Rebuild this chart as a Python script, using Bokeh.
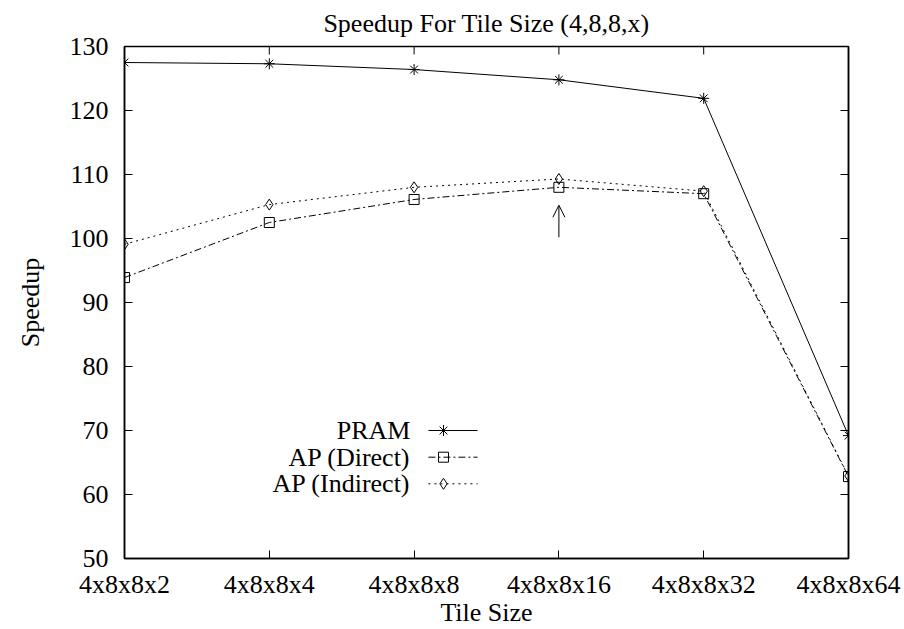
from bokeh.plotting import figure
from bokeh.models import (Range1d, FixedTicker, LinearAxis, Arrow, OpenHead,
                          ColumnDataSource, CustomLabelingPolicy)
from bokeh.core.properties import value
from bokeh.embed import file_html
from bokeh.resources import INLINE

categories = ["4x8x8x2", "4x8x8x4", "4x8x8x8", "4x8x8x16", "4x8x8x32", "4x8x8x64"]
pram = [127.5, 127.3, 126.4, 124.8, 121.9, 69.2]
ap_direct = [93.9, 102.5, 106.1, 108.0, 107.0, 62.8]
ap_indirect = [99.1, 105.3, 108.0, 109.3, 107.4, 62.9]
series_names = ["PRAM", "AP (Direct)", "AP (Indirect)"]
y_ticks = [50, 60, 70, 80, 90, 100, 110, 120, 130]
title_text = "Speedup For Tile Size (4,8,8,x)"
arrow_cat = 3
arrow_from, arrow_to = 100.2, 105.2

FONT = "Liberation Serif"
FS = "26px"
FRAME_W, FRAME_H = 724, 512
TICK_PX = 8

xs = list(range(len(categories)))
y0, y1 = 50, 130

p = figure(width=904, height=629, output_backend="svg", toolbar_location=None,
           x_range=Range1d(0, len(categories) - 1), y_range=Range1d(y0, y1),
           min_border_left=124, min_border_right=56, min_border_top=46,
           min_border_bottom=71, title=title_text)
p.frame_width = FRAME_W
p.frame_height = FRAME_H

p.title.text_font = FONT
p.title.text_font_size = FS
p.title.text_font_style = "normal"
p.title.align = "center"
p.title.vertical_align = "top"
p.title.text_color = "black"
p.title.standoff = 13

p.grid.visible = False
p.outline_line_color = "black"
p.outline_line_width = 1.5
p.background_fill_color = "white"
p.border_fill_color = "white"

for ax in (p.xaxis[0], p.yaxis[0]):
    ax.major_label_text_font = FONT
    ax.major_label_text_font_size = FS
    ax.major_label_text_color = "black"
    ax.axis_label_text_font = FONT
    ax.axis_label_text_font_size = FS
    ax.axis_label_text_font_style = "normal"
    ax.axis_label_text_color = "black"
    ax.major_tick_in = TICK_PX
    ax.major_tick_out = 0
    ax.minor_tick_in = 0
    ax.minor_tick_out = 0
    ax.axis_line_color = "black"
    ax.axis_line_width = 1.5
    ax.major_tick_line_color = "black"
    ax.major_tick_line_width = 1

p.xaxis[0].ticker = FixedTicker(ticks=xs)
p.xaxis[0].major_label_overrides = {i: c for i, c in enumerate(categories)}
p.xaxis[0].axis_label = "Tile Size"
p.xaxis[0].major_label_standoff = 11
p.xaxis[0].axis_label_standoff = -4

p.yaxis[0].ticker = FixedTicker(ticks=y_ticks)
p.yaxis[0].axis_label = "Speedup"
p.yaxis[0].major_label_standoff = 16
p.yaxis[0].axis_label_standoff = 22

# mirrored ticks on the right: an axis without labels
hide_all = CustomLabelingPolicy(code="""
    const idx = [...indices]
    for (const i of idx) { indices.unset(i) }
    return indices
""")
ra = LinearAxis(ticker=FixedTicker(ticks=y_ticks))
ra.major_label_policy = hide_all
ra.major_label_text_font_size = "1px"
ra.major_label_standoff = 0
ra.major_tick_in = TICK_PX
ra.major_tick_out = 0
ra.minor_tick_in = 0
ra.minor_tick_out = 0
ra.axis_line_color = "black"
ra.axis_line_width = 1.5
ra.major_tick_line_color = "black"
p.add_layout(ra, "right")

# mirrored ticks on the top edge, derived from the x ticks
tick_len_y = TICK_PX * (y1 - y0) / FRAME_H
p.segment(x0=xs, y0=[y1] * len(xs), x1=xs, y1=[y1 - tick_len_y] * len(xs),
          line_color="black", line_width=1)

styles = [
    (pram, "solid", "asterisk", 11),
    (ap_direct, "7 3 2 3", "square", 10),
    (ap_indirect, "2 4", "diamond", 11),
]

for vals, dash, marker, size in styles:
    src = ColumnDataSource(dict(x=xs, y=vals))
    p.line("x", "y", source=src, line_color="black", line_width=1, line_dash=dash)
    p.scatter("x", "y", source=src, marker=marker, size=size, line_color="black",
              fill_color=None, line_width=1)

# gnuplot-style key: text right-aligned, then sample line with marker
key_text_x = 1.975
key_line_x0, key_line_x1, key_marker_x = 2.099, 2.438, 2.203
key_rows = [70.0, 65.83, 61.67]
for (vals, dash, marker, size), name, ky in zip(styles, series_names, key_rows):
    p.text(x=[key_text_x], y=[ky], text=[name], text_font=value(FONT),
           text_font_size=FS, text_align="right", text_baseline="middle",
           text_color="black")
    p.line([key_line_x0, key_line_x1], [ky, ky], line_color="black",
           line_width=1, line_dash=dash)
    p.scatter([key_marker_x], [ky], marker=marker, size=size, line_color="black",
              fill_color=None, line_width=1)

p.add_layout(Arrow(end=OpenHead(size=12, line_color="black", line_width=1),
                   x_start=arrow_cat, y_start=arrow_from, x_end=arrow_cat, y_end=arrow_to,
                   line_color="black", line_width=1))

open("out.html", "w").write(file_html(p, INLINE))
